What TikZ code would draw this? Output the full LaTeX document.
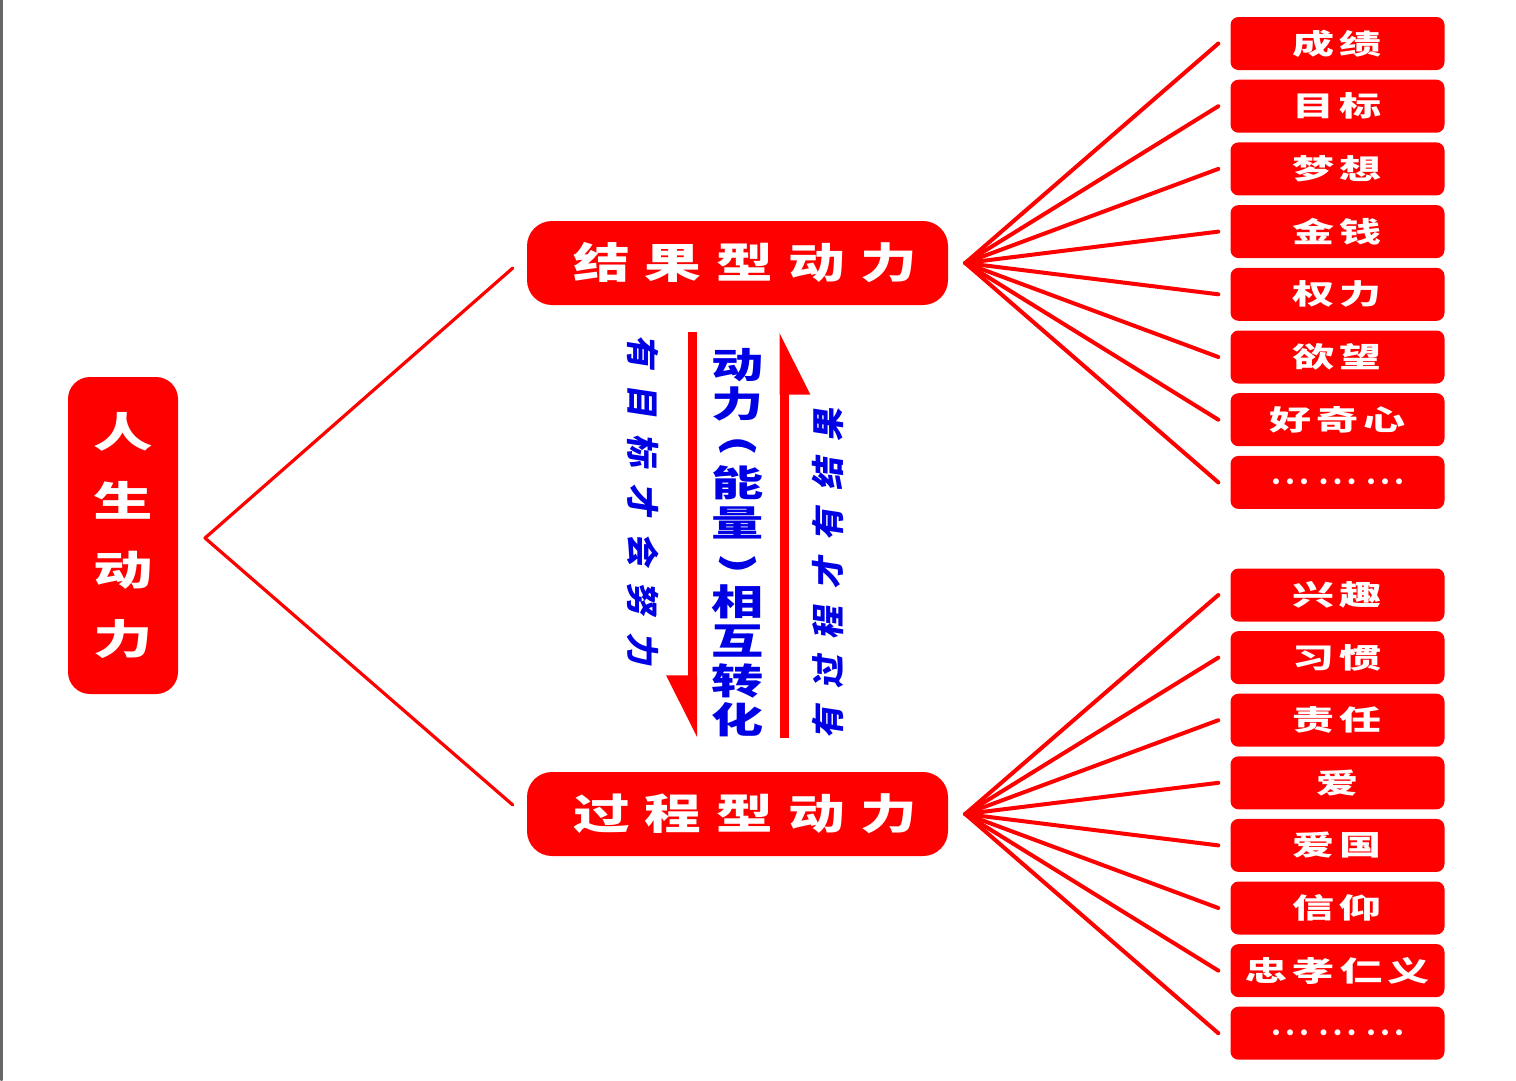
\documentclass[tikz,border=0pt]{standalone}
\usepackage{fontspec}
\usepackage{xcolor}
\usepackage{tikz}
\usetikzlibrary{calc}
\usetikzlibrary{arrows.meta}
\definecolor{ffqqqq}{rgb}{1.,0.,0.}
\definecolor{qqqqff}{rgb}{0.,0.,0.9}
\definecolor{wwwwww}{rgb}{0.4,0.4,0.4}
\newfontfamily\cjktitle{Noto Sans CJK SC}[FakeStretch=1.35,LetterSpace=36]
\newfontfamily\cjkmain{Noto Sans CJK SC}[FakeStretch=1.45]
\newfontfamily\cjkitem{Noto Sans CJK SC}[FakeStretch=1.5,LetterSpace=18]
\newfontfamily\cjkmid{Noto Sans CJK SC}[FakeStretch=1.45]
\newfontfamily\cjkside{Noto Sans CJK SC}[LetterSpace=50,FakeSlant=0.15]
\newcommand{\sdots}{\rmfamily\fontsize{20}{20}\selectfont •\kern-3.5pt•\kern-3.5pt•\kern2pt•\kern-3.5pt•\kern-3.5pt•\kern2pt•\kern-3.5pt•\kern-3.5pt•}
\tikzstyle{mainbox}=[rectangle,rounded corners=22pt,fill=ffqqqq,text=white,minimum width=110pt,minimum height=317pt,inner sep=0pt,align=center,font=\cjkmain\bfseries\fontsize{41}{69}\selectfont]
\tikzstyle{titlebox}=[rectangle,rounded corners=25pt,fill=ffqqqq,text=white,minimum width=421pt,minimum height=84pt,inner sep=0pt,font=\cjktitle\bfseries\fontsize{42}{42}\selectfont]
\tikzstyle{itembox}=[rectangle,rounded corners=8pt,fill=ffqqqq,text=white,minimum width=214pt,minimum height=53pt,inner sep=0pt,font=\cjkitem\bfseries\fontsize{28}{28}\selectfont]
\tikzstyle{sidetext}=[inner sep=0pt,text=qqqqff,font=\cjkside\bfseries\fontsize{33}{33}\selectfont]
\tikzstyle{fanline}=[line width=4pt,color=ffqqqq]
\tikzstyle{turnarrow}=[line width=9pt,color=ffqqqq,line cap=butt,-{Triangle[length=53pt,width=50pt,right]}]

\begin{document}
\begin{tikzpicture}[line cap=round,line join=round,x=1.0pt,y=-1.0pt]
                    \useasboundingbox (0,0) rectangle (1516,1080);
                    \draw [line width=2.6pt,color=wwwwww] (1.3,0) -- (1.3,1080);
                    % left and middle
                    \node [mainbox] (rsdl) at (123,535.5) {人\\生\\动\\力};
                    \node [titlebox] (jgdl) at (737.5,263) {\kern15pt 结果型动力};
                    \node [titlebox] (gcdl) at (737.5,814) {\kern15pt 过程型动力};
                    \coordinate (rsfan) at (205,538);
                    \draw [line width=3.2pt,color=ffqqqq] ([xshift=-14pt,yshift=-5pt]jgdl.west) -- (rsfan) -- ([xshift=-14pt,yshift=9pt]gcdl.west);
                    \node [text=qqqqff,inner sep=0pt,align=center,font=\cjkmid\bfseries\fontsize{36}{39.5}\selectfont] (zhdl) at (738,542.5) {动\\力\\\rotatebox[origin=c]{-90}{(}\\能\\量\\\rotatebox[origin=c]{-90}{)}\\相\\互\\转\\化};
                    \node [sidetext,rotate=-90] (ymb) at (643,500) {有目标才会努力};
                    \node [sidetext,rotate=90] (ygc) at (828,573) {有过程才有结果};
                    \coordinate (xia) at (692.5,332);
                    \coordinate (xib) at (692.5,738);
                    \coordinate (sha) at (784,738);
                    \coordinate (shb) at (784,332);
                    \draw [turnarrow] (xia) -- (xib);
                    \draw [turnarrow] (sha) -- (shb);
                    % right, upper
                    \node [itembox] (cj) at (1337.5,43.5) {成绩};
                    \node [itembox] (mb) at (1337.5,106.2) {目标};
                    \node [itembox] (mx) at (1337.5,168.9) {梦想};
                    \node [itembox] (jq) at (1337.5,231.6) {金钱};
                    \node [itembox] (ql) at (1337.5,294.3) {权力};
                    \node [itembox] (yw) at (1337.5,357) {欲望};
                    \node [itembox] (hqx) at (1337.5,419.7) {好奇心};
                    \node [itembox] (sla) at (1337.5,482.4) {\sdots};
                    % right, lower
                    \node [itembox] (xq) at (1337.5,595) {兴趣};
                    \node [itembox] (xg) at (1337.5,657.6) {习惯};
                    \node [itembox] (zr) at (1337.5,720.2) {责任};
                    \node [itembox] (ai) at (1337.5,782.8) {爱};
                    \node [itembox] (ag) at (1337.5,845.4) {爱国};
                    \node [itembox] (xy) at (1337.5,908) {信仰};
                    \node [itembox] (zxry) at (1337.5,970.6) {忠孝仁义};
                    \node [itembox] (slb) at (1337.5,1033.2) {\sdots};
                    \coordinate (jgfan) at ([xshift=17pt]jgdl.east);
                    \coordinate (gcfan) at ([xshift=17pt]gcdl.east);
                    \draw [fanline] (jgfan) -- ([xshift=-12pt]cj.west);
                    \draw [fanline] (jgfan) -- ([xshift=-12pt]mb.west);
                    \draw [fanline] (jgfan) -- ([xshift=-12pt]mx.west);
                    \draw [fanline] (jgfan) -- ([xshift=-12pt]jq.west);
                    \draw [fanline] (jgfan) -- ([xshift=-12pt]ql.west);
                    \draw [fanline] (jgfan) -- ([xshift=-12pt]yw.west);
                    \draw [fanline] (jgfan) -- ([xshift=-12pt]hqx.west);
                    \draw [fanline] (jgfan) -- ([xshift=-12pt]sla.west);
                    \draw [fanline] (gcfan) -- ([xshift=-12pt]xq.west);
                    \draw [fanline] (gcfan) -- ([xshift=-12pt]xg.west);
                    \draw [fanline] (gcfan) -- ([xshift=-12pt]zr.west);
                    \draw [fanline] (gcfan) -- ([xshift=-12pt]ai.west);
                    \draw [fanline] (gcfan) -- ([xshift=-12pt]ag.west);
                    \draw [fanline] (gcfan) -- ([xshift=-12pt]xy.west);
                    \draw [fanline] (gcfan) -- ([xshift=-12pt]zxry.west);
                    \draw [fanline] (gcfan) -- ([xshift=-12pt]slb.west);
                    \end{tikzpicture}
\end{document}
